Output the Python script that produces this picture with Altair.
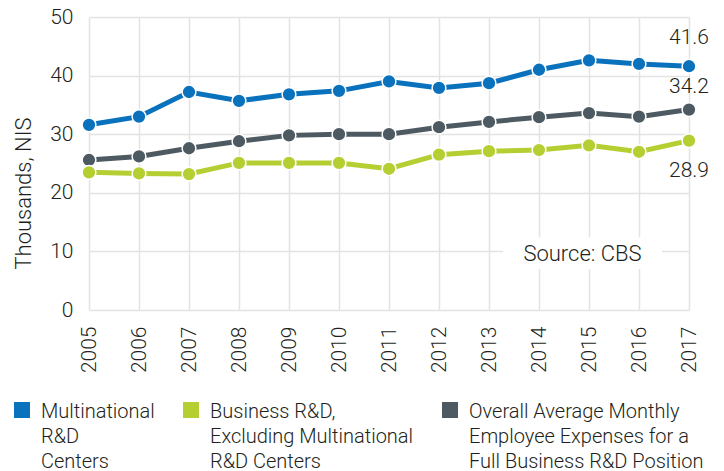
import altair as alt
import pandas as pd

years = list(range(2005, 2018))
multinational = [31.6, 33.0, 37.2, 35.7, 36.8, 37.4, 39.0, 37.9, 38.7, 41.0, 42.6, 42.0, 41.6]
business = [23.5, 23.3, 23.2, 25.1, 25.1, 25.1, 24.1, 26.5, 27.1, 27.3, 28.1, 27.0, 28.9]
overall = [25.6, 26.2, 27.6, 28.8, 29.8, 30.0, 30.0, 31.2, 32.1, 32.9, 33.6, 33.0, 34.2]

names = [
    "Multinational|R&D|Centers",
    "Business R&D,|Excluding Multinational|R&D Centers",
    "Overall Average Monthly|Employee Expenses for a|Full Business R&D Position",
]
colors = ["#0a72bd", "#b5cf32", "#4e5a62"]

rows = []
for name, vals in [(names[2], overall), (names[1], business), (names[0], multinational)]:
    for y, v in zip(years, vals):
        rows.append({"year": y, "value": v, "series": name})
df = pd.DataFrame(rows)

FONT = "Roboto"
TEXT = "#231f20"

x = alt.X("year:Q", scale=alt.Scale(domain=[2005, 2017], nice=False, zero=False),
          axis=alt.Axis(values=years, format="d", labelAngle=-90, labelPadding=16,
                        title=None, domain=False, ticks=False))
y = alt.Y("value:Q", scale=alt.Scale(domain=[0, 50], nice=False),
          axis=alt.Axis(values=[0, 10, 20, 30, 40, 50], title="Thousands, NIS",
                        labelPadding=16, domain=False, ticks=False,
                        titleX=-54, titleY=176, titleBaseline="bottom", titleAlign="center"))
color = alt.Color("series:N",
                  scale=alt.Scale(domain=names, range=colors),
                  legend=alt.Legend(title=None, orient="none", legendX=-77, legendY=375,
                                    direction="horizontal", columns=3, columnPadding=26,
                                    symbolType="M-1,0H1V2H-1Z", symbolSize=256,
                                    symbolStrokeWidth=0, symbolOpacity=1,
                                    labelExpr="split(datum.label, '|')", labelLimit=400,
                                    labelOffset=9, labelBaseline="top"))

base = alt.Chart(df)
lines = base.mark_line(strokeWidth=5).encode(x=x, y=y, color=color)
points = base.mark_point(filled=True, size=190, opacity=1, stroke="white",
                         strokeWidth=1.5, strokeOpacity=1).encode(x=x, y=y, color=color)

# end labels
end_year = [2017]
lab_blue = alt.Chart(pd.DataFrame({"year": end_year, "value": [multinational[-1]]})).mark_text(
    dy=-28, fontSize=21, font=FONT, fontWeight=300, color=TEXT).encode(
    x="year:Q", y="value:Q", text=alt.Text("value:Q", format=".1f"))
lab_grey = alt.Chart(pd.DataFrame({"year": end_year, "value": [overall[-1]]})).mark_text(
    dy=-23, fontSize=21, font=FONT, fontWeight=300, color=TEXT).encode(
    x="year:Q", y="value:Q", text=alt.Text("value:Q", format=".1f"))
lab_green = alt.Chart(pd.DataFrame({"year": end_year, "value": [business[-1]]})).mark_text(
    dy=30, fontSize=21, font=FONT, fontWeight=300, color=TEXT).encode(
    x="year:Q", y="value:Q", text=alt.Text("value:Q", format=".1f"))

# source note with white backing box
box = alt.Chart(pd.DataFrame({"x1": [2013.28], "x2": [2016.46], "y1": [7.0], "y2": [12.4]})).mark_rect(
    color="white").encode(x="x1:Q", x2="x2:Q", y="y1:Q", y2="y2:Q")
src = alt.Chart(pd.DataFrame({"x": [2014.87], "y": [9.6], "t": ["Source: CBS"]})).mark_text(
    fontSize=22, font=FONT, fontWeight=300, color=TEXT).encode(x="x:Q", y="y:Q", text="t:N")

chart = alt.layer(box, src, lines, points, lab_blue, lab_grey, lab_green).properties(
    width=600, height=293,
    autosize=alt.AutoSizeParams(type="none"),
    padding={"left": 81, "top": 9, "right": 20, "bottom": 160},
).configure(style={"guide-label": {"lineHeight": 25}}).configure_view(stroke=None).configure_axis(
    gridColor="#e3e3e3", gridWidth=1.5,
    labelFont=FONT, labelFontSize=21, labelFontWeight=300, labelColor=TEXT,
    titleFont=FONT, titleFontSize=22, titleFontWeight=300, titleColor=TEXT,
).configure_legend(
    labelFont=FONT, labelFontSize=20, labelFontWeight=300, labelColor=TEXT,
)

chart.save("out.html", embed_options={"renderer": "svg", "actions": False})
